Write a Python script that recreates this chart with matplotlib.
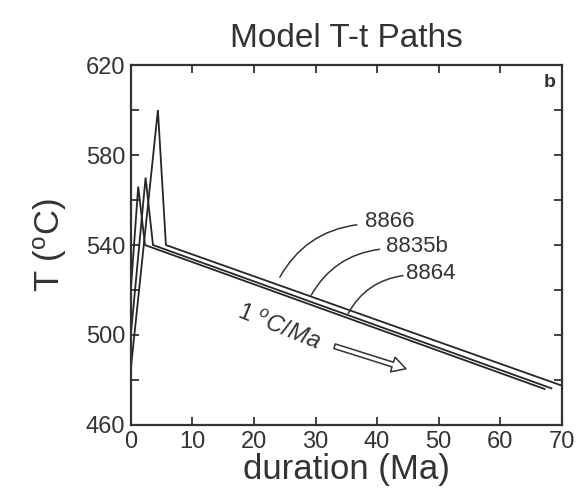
import matplotlib
matplotlib.use("Agg")
import matplotlib.pyplot as plt
from matplotlib.ticker import MultipleLocator

plt.rcParams["font.family"] = ["Liberation Sans", "DejaVu Sans"]
plt.rcParams["mathtext.fontset"] = "custom"
plt.rcParams["mathtext.rm"] = "Liberation Sans"
plt.rcParams["mathtext.it"] = "Liberation Sans:italic"

# T-t paths: (duration Ma, T degC)
names = ["8866", "8835b", "8864"]
t_8866 = [0.0, 4.4, 5.7, 70.0]
T_8866 = [485, 600, 540, 477.5]
t_8835b = [0.0, 2.4, 3.6, 68.3]
T_8835b = [500, 570, 540, 476.3]
t_8864 = [0.0, 1.2, 2.3, 67.2]
T_8864 = [520, 566, 540, 476.0]

# label text positions and leader line endpoints
label_xy = [(38.0, 550.5), (41.4, 539.5), (44.7, 527.5)]
leader_start = [(24.2, 525.7), (29.3, 517.7), (35.3, 509.6)]
leader_end = [(36.7, 549.0), (40.4, 538.1), (44.2, 526.4)]

fig = plt.figure(figsize=(5.84, 4.93), dpi=100)
ax = fig.add_axes([0.224, 0.138, 0.738, 0.73])

for t, T in [(t_8866, T_8866), (t_8835b, T_8835b), (t_8864, T_8864)]:
    ax.plot(t, T, color="#262626", lw=1.3, solid_joinstyle="miter")

for name, txy, s, e in zip(names, label_xy, leader_start, leader_end):
    ax.text(txy[0], txy[1], name, fontsize=16, color="#333333", va="center", ha="left")
    ax.annotate("", xy=e, xytext=s,
                arrowprops=dict(arrowstyle="-", color="#333333", lw=1.1,
                                connectionstyle="arc3,rad=-0.25", shrinkA=0, shrinkB=0))

ax.text(24.0, 503.0, r"$\mathit{1\ ^{o}C/Ma}$", fontsize=17, color="#333333",
        rotation=-22, ha="center", va="center", rotation_mode="anchor")
ax.annotate("", xy=(44.7, 485.0), xytext=(33.1, 495.0),
            arrowprops=dict(arrowstyle="simple,head_length=1.0,head_width=1.1,tail_width=0.35",
                            fc="white", ec="#333333", lw=1.1, shrinkA=0, shrinkB=0))

ax.text(0.985, 0.975, "b", transform=ax.transAxes, fontsize=14, fontweight="bold",
        ha="right", va="top", color="#333333")

ax.set_xlim(0, 70)
ax.set_ylim(460, 620)
ax.xaxis.set_major_locator(MultipleLocator(10))
ax.set_yticks([460, 500, 540, 580, 620])
ax.set_yticks([480, 520, 560, 600], minor=True)
ax.tick_params(which="both", direction="in", top=True, right=True, length=6,
               width=1.3, labelsize=17, colors="#333333", pad=4)
for sp in ax.spines.values():
    sp.set_linewidth(1.6)
    sp.set_color("#333333")

ax.set_xlabel("duration (Ma)", fontsize=25, color="#333333", labelpad=0)
ax.set_ylabel(r"T ($\mathrm{^{o}}$C)", fontsize=25, color="#333333", labelpad=12)
ax.set_title("Model T-t Paths", fontsize=24, color="#333333", pad=13)

fig.savefig("out.png", dpi=100, facecolor="white")
